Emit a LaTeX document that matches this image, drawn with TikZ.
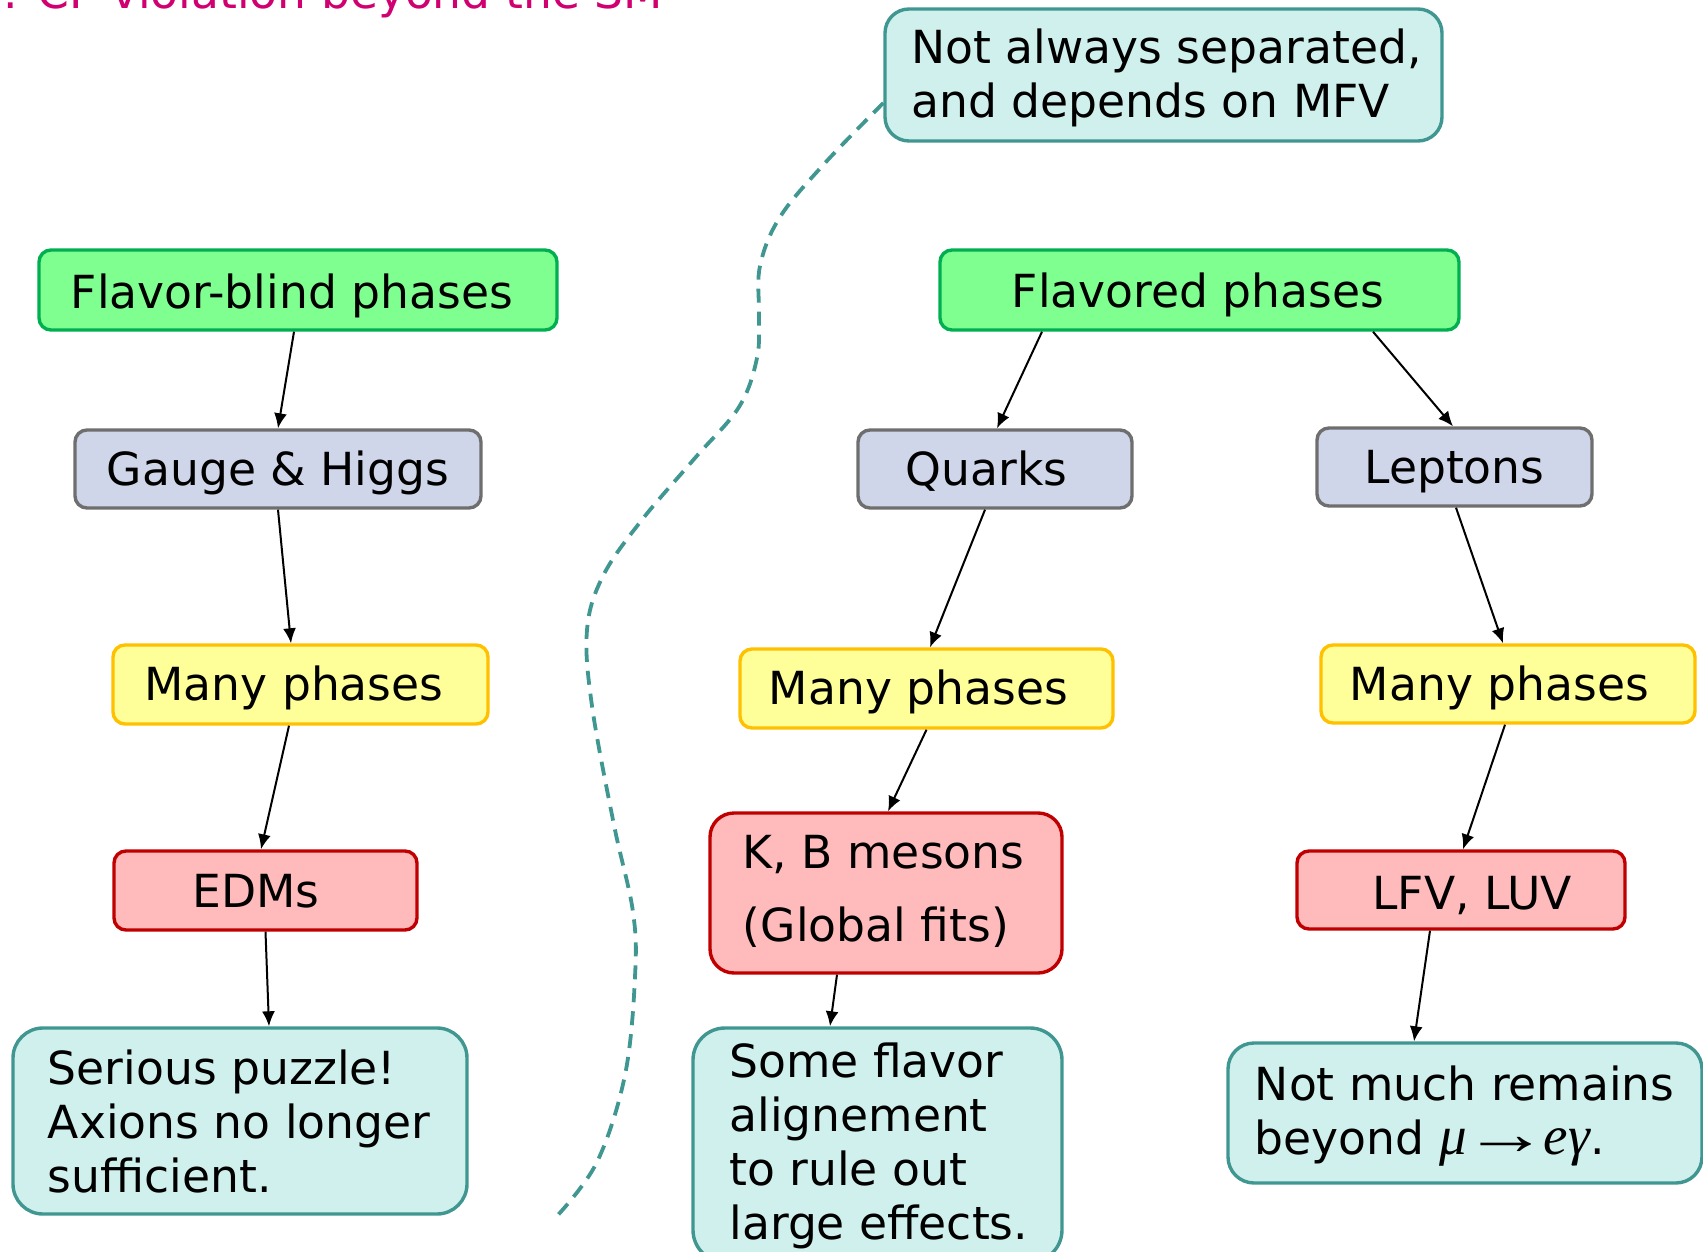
\documentclass[tikz,border=0pt]{standalone}
\usepackage{fontspec}
\usepackage{graphicx}
\setmainfont{DejaVu Sans}
\newfontfamily\tmsfont{Liberation Serif}
\usetikzlibrary{arrows.meta}
\definecolor{grfill}{RGB}{128,255,145}
\definecolor{grdraw}{RGB}{0,176,80}
\definecolor{blfill}{RGB}{208,214,234}
\definecolor{bldraw}{RGB}{110,110,110}
\definecolor{yefill}{RGB}{255,255,153}
\definecolor{yedraw}{RGB}{255,192,0}
\definecolor{refill}{RGB}{255,187,187}
\definecolor{redraw}{RGB}{192,0,0}
\definecolor{tefill}{RGB}{207,240,236}
\definecolor{tedraw}{RGB}{64,150,145}
\definecolor{titlec}{RGB}{208,0,112}
\newcommand{\tstrut}{\rule{0pt}{20pt}}
\newcommand{\tms}{\tmsfont\fontsize{27.5}{27}\selectfont}
\begin{document}
\begin{tikzpicture}[x=0.5pt,y=-0.5pt,
  box/.style={draw, line width=1.7pt, rounded corners=6pt, inner sep=0pt},
  gbox/.style={box, draw=grdraw, fill=grfill},
  bbox/.style={box, draw=bldraw, fill=blfill},
  ybox/.style={box, draw=yedraw, fill=yefill},
  rbox/.style={box, draw=redraw, fill=refill},
  tbox/.style={box, draw=tedraw, fill=tefill},
  lbl/.style={inner sep=0pt, font=\fontsize{22.8}{27}\selectfont},
  mlbl/.style={lbl, anchor=north west, align=left},
  conn/.style={line width=1pt, -{Latex[length=7.5pt,width=6.5pt]}},
]
\useasboundingbox (0,0) rectangle (1703,1252);
\clip (0,0) rectangle (1703,1252);

% title (clipped at top, as in the reference)
\node[lbl, text=titlec, anchor=base west] (title) at (3,9) {. CP violation beyond the SM};

% boxes
\node[gbox, minimum width=259pt, minimum height=40pt] (fb) at (298,290) {};
\node[bbox, minimum width=203pt, minimum height=39pt] (gh) at (278,469) {};
\node[ybox, minimum width=187.5pt, minimum height=39.5pt] (m1) at (300.5,684.5) {};
\node[rbox, minimum width=151.5pt, minimum height=39.5pt] (edm) at (265.5,890.5) {};
\node[tbox, rounded corners=15pt, minimum width=227pt, minimum height=93pt] (sp) at (240,1121) {};

\node[gbox, minimum width=259.5pt, minimum height=40pt] (fp) at (1199.5,290) {};
\node[bbox, minimum width=137pt, minimum height=39pt] (q) at (995,469) {};
\node[bbox, minimum width=137.5pt, minimum height=39pt] (l) at (1454.5,467) {};
\node[ybox, minimum width=186.5pt, minimum height=39.5pt] (m2) at (926.5,688.5) {};
\node[ybox, minimum width=187pt, minimum height=39pt] (m3) at (1508,684) {};
\node[rbox, rounded corners=12pt, minimum width=176pt, minimum height=80pt] (kb) at (886,893) {};
\node[rbox, minimum width=164pt, minimum height=39pt] (lfv) at (1461,890) {};
\node[tbox, rounded corners=16pt, minimum width=184.5pt, minimum height=117pt] (sf) at (877.5,1145) {};
\node[tbox, rounded corners=13pt, minimum width=237pt, minimum height=70pt] (nm) at (1465,1113) {};
\node[tbox, rounded corners=12pt, minimum width=278.5pt, minimum height=66pt] (nas) at (1163.5,75) {};

% labels
\node[lbl, anchor=base west] (fbt) at (70.5,308) {Flavor-blind phases};
\node[lbl, anchor=base west] (ght) at (106.5,485) {Gauge \& Higgs};
\node[lbl, anchor=base west] (m1t) at (144,700) {Many phases};
\node[lbl, anchor=base west] (edmt) at (192,907) {EDMs};
\node[mlbl] (spt) at (47.5,1044) {\tstrut Serious puzzle!\\Axions no longer\\sufficient.};

\node[lbl, anchor=base west] (fpt) at (1011.5,307) {Flavored phases};
\node[lbl, anchor=base west] (qt) at (905.5,485) {Quarks};
\node[lbl, anchor=base west] (lt) at (1364,483) {Leptons};
\node[lbl, anchor=base west] (m2t) at (768.5,704) {Many phases};
\node[lbl, anchor=base west] (m3t) at (1349.5,700) {Many phases};
\node[mlbl, font=\fontsize{22.8}{36.5}\selectfont] (kbt) at (742.5,828) {\tstrut K, B mesons\\(Global fits)};
\node[lbl, anchor=base west] (lfvt) at (1372,909) {LFV, LUV};
\node[mlbl] (sft) at (729,1037) {\tstrut Some flavor\\alignement\\to rule out\\large effects.};
\node[mlbl] (nmt) at (1254.5,1060) {\tstrut Not much remains\\beyond {\tms\itshape μ}\hspace{-1.5pt}\scalebox{1.55}[1.1]{\tms →}\hspace{-2.5pt}{\tms\itshape eγ}.};
\node[mlbl] (nast) at (911,23) {\tstrut Not always separated,\\and depends on MFV};

% connectors
\draw[conn] ([xshift=-2pt]fb.south) -- (gh.north);
\draw[conn] (gh.south) -- ([xshift=-4.75pt]m1.north);
\draw[conn] ([xshift=-5.75pt]m1.south) -- ([xshift=-2.25pt]edm.north);
\draw[conn] (edm.south) -- ([xshift=14.5pt]sp.north);
\draw[conn] ([xshift=-78.75pt]fp.south) -- ([xshift=1pt]q.north);
\draw[conn] ([xshift=86.75pt]fp.south) -- ([xshift=-0.75pt]l.north);
\draw[conn] ([xshift=-5pt]q.south) -- ([xshift=1.75pt]m2.north);
\draw[conn] (m2.south) -- ([xshift=1pt]kb.north);
\draw[conn] ([xshift=-24.5pt]kb.south) -- ([xshift=-23.75pt]sf.north);
\draw[conn] ([xshift=0.75pt]l.south) -- ([xshift=-2.5pt]m3.north);
\draw[conn] ([xshift=-1.5pt]m3.south) -- ([xshift=1pt]lfv.north);
\draw[conn] ([xshift=-15.5pt]lfv.south) -- ([xshift=-25.5pt]nm.north);

% dashed separator
\coordinate (dstart) at ([yshift=-14pt]nas.west);
\draw[tedraw, line width=1.9pt, dash pattern=on 7pt off 4.5pt]
  plot[smooth, tension=0.6] coordinates {(dstart) (825,163) (780,217) (760,266) (759,315) (757,358) (739,407) (695,458) (641,521) (603,576) (587,630) (592,706) (614,825) (633,912) (635,977) (625,1075) (597,1162) (557,1216)};
\end{tikzpicture}
\end{document}
